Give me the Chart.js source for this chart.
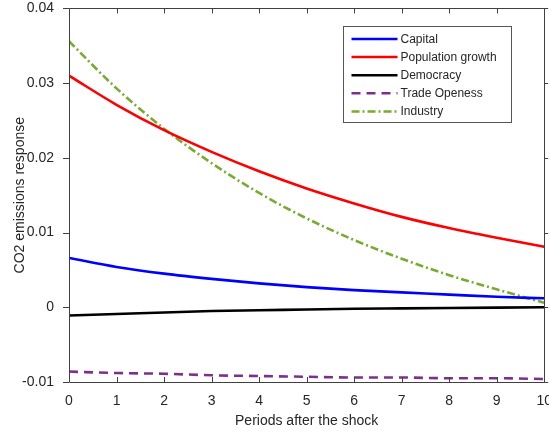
<!DOCTYPE html>
<html>
<head>
<meta charset="utf-8">
<script src="https://cdn.jsdelivr.net/npm/chart.js@4/dist/chart.umd.min.js"></script>
<style>
  html, body { margin: 0; padding: 0; background: #fff; overflow: hidden; width: 549px; height: 434px; }
  #wrap { position: relative; width: 555px; height: 441px; margin-top: -7px; }
</style>
</head>
<body>
<div id="wrap"><canvas id="c" width="555" height="441"></canvas></div>
<script>
// Impulse responses of CO2 emissions, periods 0..10 after the shock
const periods = [0, 1, 2, 3, 4, 5, 6, 7, 8, 9, 10];
const capital = [0.0066, 0.0054, 0.0045, 0.0038, 0.0032, 0.0027, 0.0023, 0.0020, 0.0017, 0.0014, 0.0012];
const populationGrowth = [0.0310, 0.0271, 0.0237, 0.0208, 0.0182, 0.0159, 0.0139, 0.0121, 0.0106, 0.0093, 0.0081];
const democracy = [-0.0011, -0.0009, -0.0007, -0.0005, -0.0004, -0.0003, -0.0002, -0.00015, -0.0001, -0.00005, 0.0];
const tradeOpeness = [-0.0086, -0.0088, -0.0089, -0.0091, -0.0092, -0.0093, -0.0094, -0.0094, -0.0095, -0.0095, -0.0096];
const industry = [0.0356, 0.0293, 0.0239, 0.0193, 0.0153, 0.0119, 0.0090, 0.0065, 0.0043, 0.0024, 0.0006];

const seriesNames = ['Capital', 'Population growth', 'Democracy', 'Trade Openess', 'Industry'];
const yTicks = [-0.01, 0, 0.01, 0.02, 0.03, 0.04];

const FONT = '"Liberation Sans", Arial, Helvetica, sans-serif';
const AXIS = '#404040';
const TEXT = '#262626';

const pts = arr => periods.map((p, i) => ({ x: p, y: arr[i] }));
const line = (label, values, color, dash) => ({
  label,
  data: pts(values),
  borderColor: color,
  backgroundColor: color,
  borderWidth: 2.6,
  borderDash: dash,
  pointRadius: 0,
  cubicInterpolationMode: 'monotone',
  fill: false
});

// Box, inward x ticks, outward y ticks (drawn after the lines)
const framePlugin = {
  id: 'frame',
  afterDatasetsDraw(chart) {
    const { ctx, chartArea: a, scales: { x, y } } = chart;
    ctx.save();
    ctx.strokeStyle = AXIS;
    ctx.lineWidth = 1;
    ctx.beginPath();
    ctx.rect(Math.round(a.left) + 0.5, Math.round(a.top) + 0.5,
             Math.round(a.right - a.left), Math.round(a.bottom - a.top));
    periods.forEach(p => {
      const px = Math.round(x.getPixelForValue(p)) + 0.5;
      ctx.moveTo(px, a.bottom); ctx.lineTo(px, a.bottom - 5);
      ctx.moveTo(px, a.top); ctx.lineTo(px, a.top + 5);
    });
    yTicks.forEach(v => {
      const py = Math.round(y.getPixelForValue(v)) + 0.5;
      ctx.moveTo(a.left, py); ctx.lineTo(a.left - 6, py);
      ctx.moveTo(a.right, py); ctx.lineTo(a.right + 4, py);
    });
    ctx.stroke();
    ctx.restore();
  }
};

// Boxed legend in the upper right of the axes
const legendPlugin = {
  id: 'boxLegend',
  afterDraw(chart) {
    const { ctx, chartArea: a } = chart;
    const w = 168, h = 96, rowH = 18.1;
    const left = Math.round(a.right - 33 - w) + 0.5;
    const top = Math.round(a.top + 18) + 0.5;
    ctx.save();
    ctx.fillStyle = '#fff';
    ctx.fillRect(left, top, w, h);
    ctx.strokeStyle = '#555';
    ctx.lineWidth = 1;
    ctx.strokeRect(left, top, w, h);
    ctx.font = '12px ' + FONT;
    ctx.textBaseline = 'middle';
    chart.data.datasets.forEach((ds, i) => {
      const cy = top + 12.5 + i * rowH;
      ctx.beginPath();
      ctx.strokeStyle = ds.borderColor;
      ctx.lineWidth = 2.5;
      ctx.setLineDash(ds.borderDash || []);
      ctx.moveTo(left + 8, cy);
      ctx.lineTo(left + 54, cy);
      ctx.stroke();
      ctx.setLineDash([]);
      ctx.fillStyle = TEXT;
      ctx.fillText(ds.label, left + 57, cy + 0.5);
    });
    ctx.restore();
  }
};

new Chart(document.getElementById('c'), {
  type: 'line',
  data: {
    datasets: [
      line(seriesNames[0], capital, '#0000ff', []),
      line(seriesNames[1], populationGrowth, '#ff0000', []),
      line(seriesNames[2], democracy, '#000000', []),
      line(seriesNames[3], tradeOpeness, '#7e2f8e', [9, 6]),
      line(seriesNames[4], industry, '#77ac30', [8, 3, 2, 3])
    ]
  },
  options: {
    responsive: false,
    animation: false,
    devicePixelRatio: 1,
    layout: { padding: { top: 0, left: 0, right: 0, bottom: 0 } },
    plugins: { legend: { display: false }, tooltip: { enabled: false } },
    scales: {
      x: {
        type: 'linear',
        min: 0, max: 10,
        grid: { display: false },
        border: { display: false },
        ticks: {
          stepSize: 1,
          padding: 3,
          color: TEXT,
          font: { family: FONT, size: 14 },
          maxRotation: 0
        },
        title: {
          display: true,
          text: 'Periods after the shock',
          color: TEXT,
          font: { family: FONT, size: 14 },
          padding: { top: 0, bottom: 4 }
        },
        afterFit(scale) { scale.height = 52; }
      },
      y: {
        min: -0.01, max: 0.04,
        grid: { display: false },
        border: { display: false },
        ticks: {
          stepSize: 0.01,
          padding: 7,
          color: TEXT,
          font: { family: FONT, size: 14 },
          callback: v => {
            const r = Math.round(v * 100) / 100;
            return r === 0 ? '0' : r.toFixed(2);
          }
        },
        title: {
          display: true,
          text: 'CO2 emissions response',
          color: TEXT,
          font: { family: FONT, size: 14 },
          padding: { top: 12, bottom: 0 }
        },
        afterFit(scale) { scale.width = 69; }
      }
    }
  },
  plugins: [framePlugin, legendPlugin]
});
</script>
</body>
</html>
